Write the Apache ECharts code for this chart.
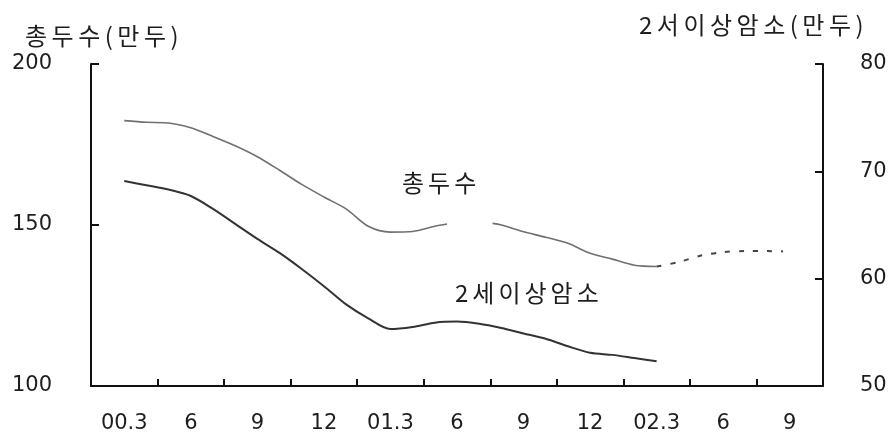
<!DOCTYPE html>
<html><head><meta charset="utf-8">
<script src="https://cdn.jsdelivr.net/npm/echarts@6/dist/echarts.min.js"></script>
<style>html,body{margin:0;padding:0;background:#fff}#c{width:896px;height:438px}</style>
</head><body><div id="c"></div>
<script>
// quarterly categories and their printed tick labels
var categories = ['00.3','00.6','00.9','00.12','01.3','01.6','01.9','01.12','02.3','02.6','02.9'];
var tickLabels = ['00.3','6','9','12','01.3','6','9','12','02.3','6','9'];
// months after 2000.3 (0 = 00.3) at which values were read
var totalMonths  = [0,1,2,3,4,5,6,7,8,9,10,11,12,13,14,14.55,15.5,16.6,17,18,19,20,21,22,23,24];
var totalValues  = [182.4,181.9,181.7,180.2,177.5,174.6,171.2,167.0,162.6,158.7,155.0,149.6,147.8,148.0,149.6,150.3,null,150.5,150.0,147.9,146.2,144.3,141.2,139.4,137.5,137.1];
var totalFcMonths = [24,25,26,27,28,29,29.7];
var totalFcValues = [137.1,138.5,140.5,141.6,141.9,141.9,141.8];
var cowMonths = [0,1,2,3,4,5,6,7,8,9,10,11,12,13,14,15,16,17,18,19,20,21,22,23,24];
var cowValues = [69.1,68.7,68.3,67.7,66.5,65.1,63.7,62.4,60.9,59.3,57.6,56.3,55.3,55.5,55.9,56.0,55.8,55.4,54.9,54.4,53.7,53.1,52.9,52.6,52.3];
var leftTicks = [100,150,200];
var rightTicks = [50,60,70,80];

function pairs(xs, ys){ return xs.map(function(x,i){ return [x, ys[i]]; }); }

var numFont = {fontFamily:'DejaVu Sans', fontSize:21, color:'#1e1e1e'};
var KFAM = 'Noto Sans CJK KR', KSIZE = 24;
var measureCtx = document.createElement('canvas').getContext('2d');
measureCtx.font = KSIZE + 'px "' + KFAM + '"';
// Korean label drawn with wide letter spacing, as in the printed original
function spacedText(str, x, yMid, gap){
  var children = [], cx = x;
  Array.from(str).forEach(function(ch){
    children.push({type:'text', x:cx, y:yMid, style:{text:ch, fontFamily:KFAM, fontSize:KSIZE, fill:'#1e1e1e', verticalAlign:'middle', align:'left'}});
    cx += measureCtx.measureText(ch).width + gap;
  });
  return {type:'group', children:children};
}

var chart = echarts.init(document.getElementById('c'), null, {renderer:'canvas'});
chart.setOption({
  animation:false,
  backgroundColor:'#fff',
  grid:{left:91, right:73, top:64, bottom:52, containLabel:false, outerBoundsMode:'none'},
  xAxis:[{
    type:'category', data:categories, boundaryGap:true, position:'bottom',
    axisLine:{show:true, onZero:false, lineStyle:{color:'#111', width:2}},
    axisTick:{show:true, inside:true, interval:0, alignWithLabel:false, length:7, lineStyle:{color:'#111', width:2}},
    axisLabel:Object.assign({show:true, interval:0, margin:27, formatter:function(v,i){return tickLabels[i];}}, numFont),
    splitLine:{show:false}
  },{
    type:'value', min:-1.5, max:31.5, show:false
  }],
  yAxis:[{
    type:'value', min:leftTicks[0], max:leftTicks[leftTicks.length-1], interval:50,
    axisLine:{show:true, onZero:false, lineStyle:{color:'#111', width:2}},
    axisTick:{show:true, inside:true, length:8, lineStyle:{color:'#111', width:2}},
    axisLabel:Object.assign({margin:39}, numFont),
    splitLine:{show:false}
  },{
    type:'value', min:rightTicks[0], max:rightTicks[rightTicks.length-1], interval:10, position:'right',
    axisLine:{show:true, onZero:false, lineStyle:{color:'#111', width:2}},
    axisTick:{show:true, inside:true, length:8, lineStyle:{color:'#111', width:2}},
    axisLabel:Object.assign({margin:37}, numFont),
    splitLine:{show:false}
  }],
  graphic:[
    spacedText('총두수(만두)', 25, 36, 4.5),
    spacedText('2서이상암소(만두)', 639, 25, 4.5),
    spacedText('총두수', 402, 183, 4),
    spacedText('2세이상암소', 455, 293, 4)
  ],
  series:[{
    name:'총두수', type:'line', xAxisIndex:1, yAxisIndex:0, smooth:0.3, showSymbol:false,
    connectNulls:false, data:pairs(totalMonths,totalValues),
    lineStyle:{color:'#707070', width:1.6}
  },{
    name:'총두수 전망', type:'line', xAxisIndex:1, yAxisIndex:0, smooth:0.3, showSymbol:false,
    data:pairs(totalFcMonths,totalFcValues),
    lineStyle:{color:'#444', width:2, type:[5,9]}
  },{
    name:'2세이상암소', type:'line', xAxisIndex:1, yAxisIndex:1, smooth:0.3, showSymbol:false,
    data:pairs(cowMonths,cowValues),
    lineStyle:{color:'#333', width:2}
  }]
});
</script></body></html>
